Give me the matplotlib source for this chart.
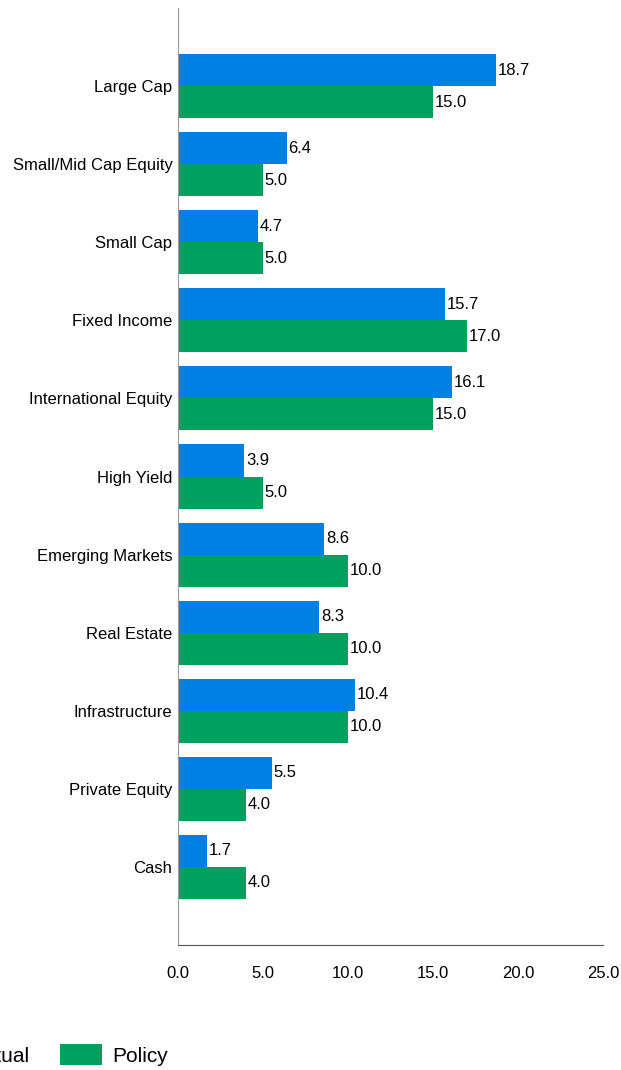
import numpy as np
import matplotlib.pyplot as plt

plt.rcParams['font.family'] = ['Liberation Sans', 'DejaVu Sans']

categories = ['Large Cap', 'Small/Mid Cap Equity', 'Small Cap', 'Fixed Income',
              'International Equity', 'High Yield', 'Emerging Markets', 'Real Estate',
              'Infrastructure', 'Private Equity', 'Cash']
actual = [18.7, 6.4, 4.7, 15.7, 16.1, 3.9, 8.6, 8.3, 10.4, 5.5, 1.7]
policy = [15.0, 5.0, 5.0, 17.0, 15.0, 5.0, 10.0, 10.0, 10.0, 4.0, 4.0]
xticks = [0, 5, 10, 15, 20, 25]

blue = '#0080E5'
green = '#00A05E'

fig = plt.figure(figsize=(6.21, 10.70), dpi=100)
ax = fig.add_axes([178 / 621, 1 - 945 / 1070, 425 / 621, 937 / 1070])

y = np.arange(len(categories))
h = 0.41
b1 = ax.barh(y - h / 2, actual, height=h, color=blue, label='Actual')
b2 = ax.barh(y + h / 2, policy, height=h, color=green, label='Policy')

for bars, vals in [(b1, actual), (b2, policy)]:
    for bar, v in zip(bars, vals):
        ax.text(bar.get_width() + 0.1, bar.get_y() + bar.get_height() / 2,
                f'{v:.1f}', va='center', ha='left', fontsize=12)

ax.set_ylim(len(categories), -1)
ax.set_yticks(y)
ax.set_yticklabels(categories, fontsize=12)
ax.set_xlim(0, 25)
ax.set_xticks(xticks)
ax.set_xticklabels([f'{t:.1f}' for t in xticks], fontsize=12)
ax.tick_params(axis='both', length=0)
ax.tick_params(axis='x', pad=15)
ax.tick_params(axis='y', pad=4)

ax.spines['top'].set_visible(False)
ax.spines['right'].set_visible(False)
ax.spines['left'].set_color('#999999')
ax.spines['bottom'].set_color('#555555')

# legend is partly outside the left edge, as in the original
fig.legend(handles=[b1, b2], labels=['Actual', 'Policy'], loc='center',
           bbox_to_anchor=(44 / 621, 1 - 1055 / 1070), ncol=2, frameon=False,
           fontsize=15, handlelength=2.0, handleheight=1.15, handletextpad=0.5,
           columnspacing=1.45)

fig.savefig('out.png', dpi=100)
